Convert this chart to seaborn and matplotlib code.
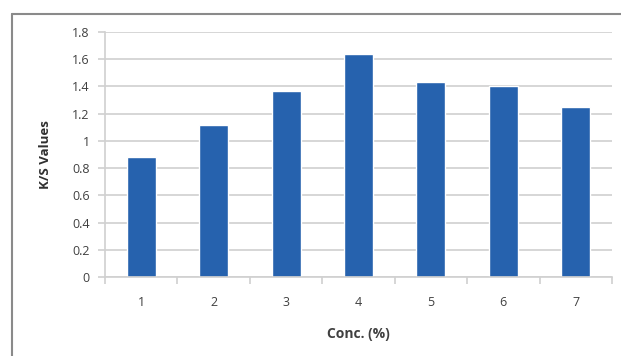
import matplotlib
matplotlib.use("Agg")
import matplotlib.pyplot as plt
import seaborn as sns
import pandas as pd
import numpy as np
from matplotlib.lines import Line2D

categories = ["1", "2", "3", "4", "5", "6", "7"]
values = [0.88, 1.12, 1.37, 1.64, 1.43, 1.40, 1.25]
yticks = [0, 0.2, 0.4, 0.6, 0.8, 1, 1.2, 1.4, 1.6, 1.8]
ytick_labels = ["0", "0.2", "0.4", "0.6", "0.8", "1", "1.2", "1.4", "1.6", "1.8"]

sns.set_theme(style="white")
plt.rcParams['font.family'] = ['Open Sans', 'DejaVu Sans']

df = pd.DataFrame({"conc": categories, "ks": values})

fig = plt.figure(figsize=(6.21, 3.56), dpi=100)
ax = fig.add_axes([0.169, 0.222, 0.8165, 0.688])
sns.barplot(data=df, x="conc", y="ks", color="#2662AE", saturation=1, width=0.4, ax=ax)

ax.set_ylim(0, 1.8)
ax.set_xlim(-0.5, 6.5)
ax.set_yticks(yticks)
ax.set_yticklabels(ytick_labels)
ax.yaxis.grid(True, color="#d0d0d0", linewidth=1.2)
ax.set_axisbelow(True)
for s in ["top", "right"]:
    ax.spines[s].set_visible(False)
for s in ["left", "bottom"]:
    ax.spines[s].set_color("#d0d0d0")
    ax.spines[s].set_linewidth(1.2)

ax.tick_params(axis="y", which="major", length=5, color="#d0d0d0", width=1.2,
               labelsize=9, labelcolor="#404040", pad=6, left=True)
ax.tick_params(axis="x", which="major", length=0, labelsize=9, labelcolor="#404040", pad=14)
ax.set_xticks(np.arange(-0.5, 7.0, 1.0), minor=True)
ax.tick_params(axis="x", which="minor", length=5, color="#d0d0d0", width=1.2, bottom=True)

ax.set_xlabel("Conc. (%)", fontsize=10, fontweight="bold", color="#404040")
ax.set_ylabel("K/S Values", fontsize=9.5, fontweight="bold", color="#303030")
ax.xaxis.label.set_va("center")
ax.yaxis.label.set_va("center")
ax.xaxis.set_label_coords(0.499, -0.233)
ax.yaxis.set_label_coords(-0.118, 0.50)

# outer chart border (left and top)
fig.add_artist(Line2D([12/621, 12/621], [0, 1 - 14/356], transform=fig.transFigure,
                      color="#8a8a8a", linewidth=1.5))
fig.add_artist(Line2D([12/621, 1], [1 - 14/356, 1 - 14/356], transform=fig.transFigure,
                      color="#8a8a8a", linewidth=1.5))

fig.savefig("out.png", dpi=100, facecolor="white")
